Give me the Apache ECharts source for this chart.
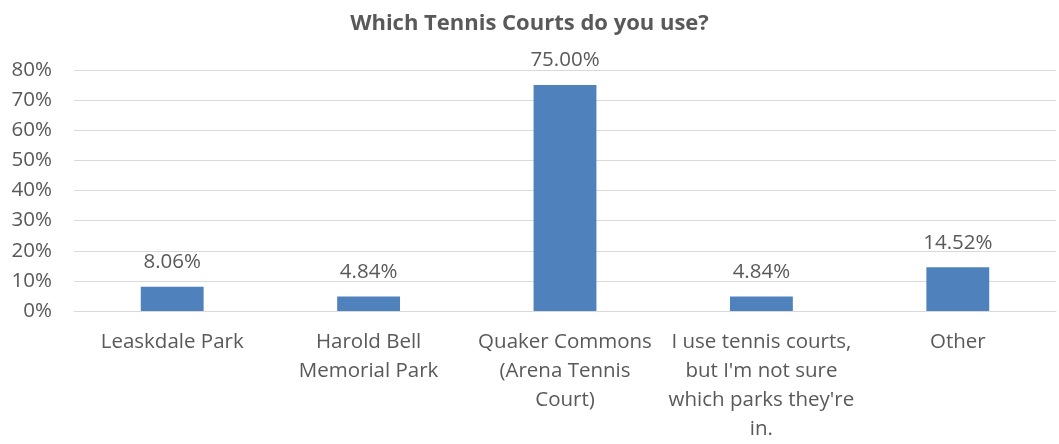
<!DOCTYPE html>
<html>
<head>
<meta charset="utf-8">
<script src="https://cdn.jsdelivr.net/npm/echarts@6/dist/echarts.min.js"></script>
<style>
  html, body { margin: 0; padding: 0; background: #ffffff; overflow: hidden; }
  #chart { width: 1059px; height: 444px; }
</style>
</head>
<body>
<div id="chart"></div>
<script>
// Survey responses: share of respondents per tennis court location
const categories = [
  'Leaskdale Park',
  'Harold Bell\nMemorial Park',
  'Quaker Commons\n(Arena Tennis\nCourt)',
  'I use tennis courts,\nbut I\'m not sure\nwhich parks they\'re\nin.',
  'Other'
];
const shares = [8.06, 4.84, 75.00, 4.84, 14.52];
const yTicks = { min: 0, max: 80, interval: 10 };

const FONT = '"Open Sans", "Liberation Sans", sans-serif';
const TEXT = '#595959';

const chart = echarts.init(document.getElementById('chart'), null, { renderer: 'canvas' });
chart.setOption({
  animation: false,
  backgroundColor: '#ffffff',
  title: {
    text: 'Which Tennis Courts do you use?',
    left: 'center',
    top: 8,
    textStyle: { fontFamily: FONT, fontSize: 22, fontWeight: 'bold', color: TEXT }
  },
  grid: { left: 74, right: 3, top: 70, bottom: 128, containLabel: false },
  xAxis: {
    type: 'category',
    data: categories,
    axisLine: { show: true, lineStyle: { color: '#d9d9d9', width: 1 } },
    axisTick: { show: false },
    axisLabel: {
      interval: 0,
      margin: 17,
      fontFamily: FONT,
      fontSize: 20.5,
      lineHeight: 29,
      color: TEXT
    }
  },
  yAxis: {
    type: 'value',
    min: yTicks.min,
    max: yTicks.max,
    interval: yTicks.interval,
    axisLine: { show: false },
    axisTick: { show: false },
    splitLine: { lineStyle: { color: '#d9d9d9', width: 1 } },
    axisLabel: {
      margin: 22,
      fontFamily: FONT,
      fontSize: 20.5,
      color: TEXT,
      formatter: v => v + '%'
    }
  },
  series: [{
    type: 'bar',
    data: shares,
    barWidth: '32%',
    itemStyle: { color: '#4f81bd' },
    label: {
      show: true,
      position: 'top',
      distance: 14,
      fontFamily: FONT,
      fontSize: 20.5,
      color: TEXT,
      formatter: p => p.value.toFixed(2) + '%'
    }
  }]
});
</script>
</body>
</html>
